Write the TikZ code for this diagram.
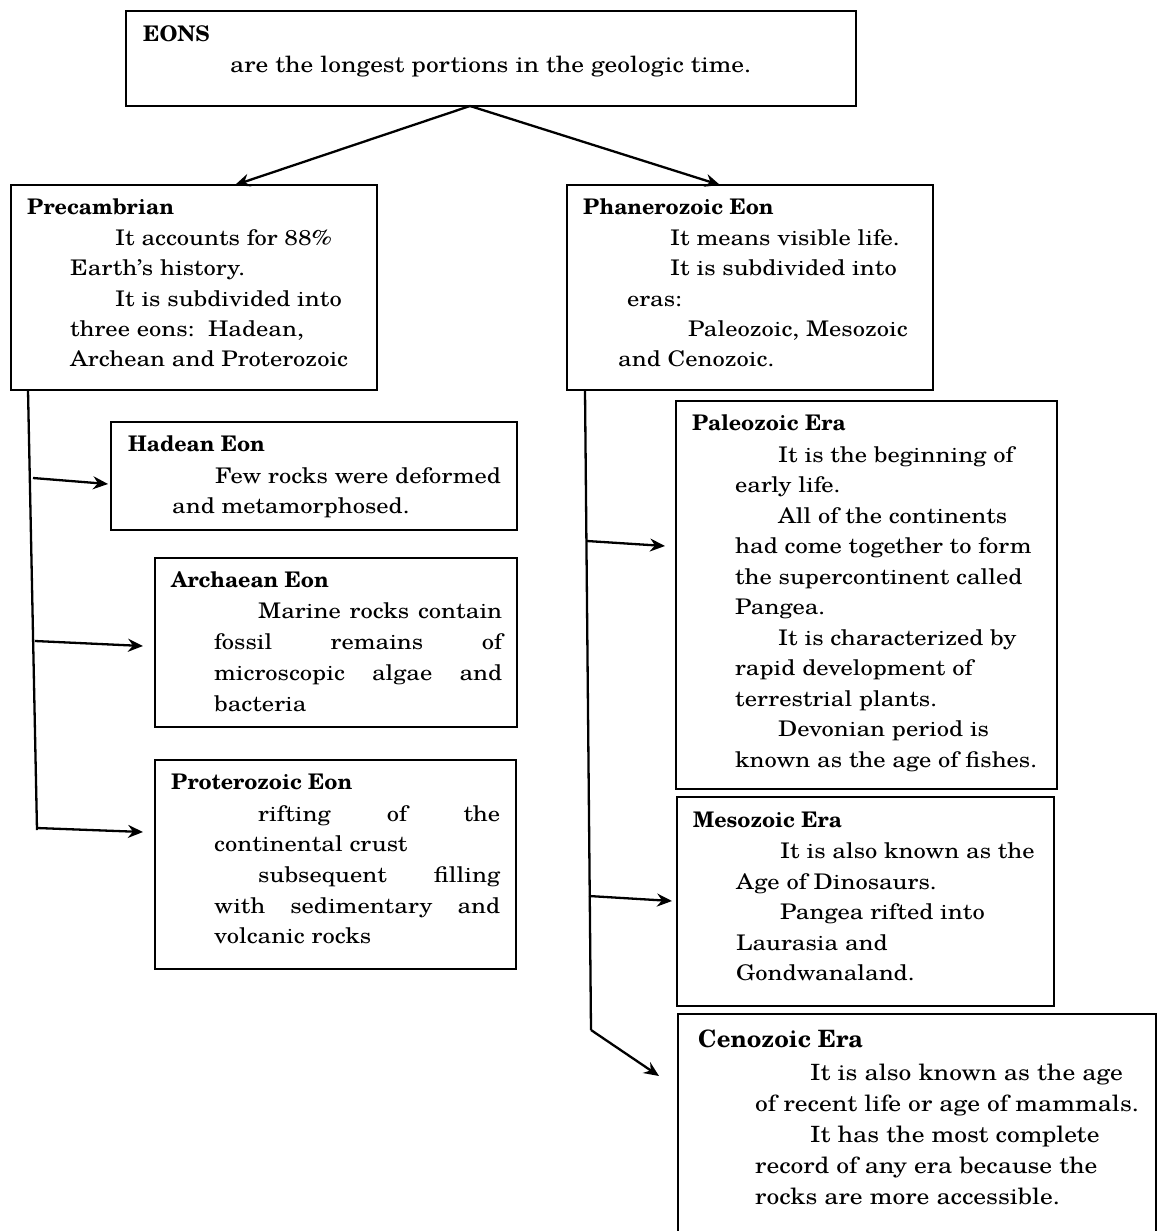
\documentclass[tikz,border=0pt]{standalone}
\usepackage{fontspec}
\setmainfont{TeX Gyre Schola}
\newfontfamily\regf{TeX Gyre Schola}[FakeStretch=1.14]
\usetikzlibrary{arrows.meta}
\begin{document}
\begin{tikzpicture}[x=1pt,y=-1pt,
  box/.style={draw, line width=2.3pt, anchor=north west, inner sep=0pt, outer sep=0pt},
  ttl/.style={anchor=base west, inner sep=0pt, font=\fontsize{21.5}{30.5}\selectfont\bfseries},
  txt/.style={anchor=base west, inner sep=0pt, font=\regf\fontsize{21.5}{30.5}\selectfont},
  etxt/.style={anchor=base west, inner sep=0pt, font=\regf\fontsize{22.3}{30.5}\selectfont},
  btxt/.style={anchor=base west, inner sep=0pt, font=\regf\fontsize{22.4}{32}\selectfont},
  bttl/.style={anchor=base west, inner sep=0pt, font=\fontsize{23.9}{32}\selectfont\bfseries},
  arr/.style={-{Stealth[length=15pt,width=13pt,inset=5pt]}, line width=2.3pt},
  trunk/.style={line width=2.3pt}]
\useasboundingbox (0,0) rectangle (1161,1231);

% ---------- boxes ----------
\node[box, minimum width=730pt, minimum height=95pt] (eons) at (126,11) {};
\node[box, minimum width=366pt, minimum height=205pt] (pc) at (11,185) {};
\node[box, minimum width=366pt, minimum height=205pt] (ph) at (567,185) {};
\node[box, minimum width=406pt, minimum height=108pt] (ha) at (111,422) {};
\node[box, minimum width=362pt, minimum height=169pt] (ar) at (155,558) {};
\node[box, minimum width=361pt, minimum height=209pt] (pr) at (155,760) {};
\node[box, minimum width=381pt, minimum height=388pt] (pa) at (676,401) {};
\node[box, minimum width=377pt, minimum height=209pt] (me) at (677,797) {};
\node[box, minimum width=478pt, minimum height=240pt] (ce) at (678,1014) {};

% ---------- EONS ----------
\node[ttl] (eonsT) at (143,42) {EONS};
\node[etxt] (eons1) at (230,72) {are the longest portions in the geologic time.};

% ---------- Precambrian ----------
\node[ttl] (pcT) at (27,214) {Precambrian};
\node[txt] (pc1) at (115,245) {It accounts for 88\%};
\node[txt] (pc2) at (70,275) {Earth’s history.};
\node[txt] (pc3) at (115,306) {It is subdivided into};
\node[txt] (pc4) at (70,336) {three eons:\ \ Hadean,};
\node[txt] (pc5) at (70,366) {Archean and Proterozoic};

% ---------- Phanerozoic ----------
\node[ttl] (phT) at (583,214) {Phanerozoic Eon};
\node[txt] (ph1) at (670,245) {It means visible life.};
\node[txt] (ph2) at (670,275) {It is subdivided into};
\node[txt] (ph3) at (627,306) {eras:};
\node[txt] (ph4) at (688,336) {Paleozoic, Mesozoic};
\node[txt] (ph5) at (618,366) {and Cenozoic.};

% ---------- Hadean ----------
\node[ttl] (haT) at (128,451) {Hadean Eon};
\node[txt] (ha1) at (215,483) {Few rocks were deformed};
\node[txt] (ha2) at (172,513) {and metamorphosed.};

% ---------- Archaean ----------
\node[ttl] (arT) at (171,587) {Archaean Eon};
\node[txt] (ar1) at (258,618) {\makebox[244pt][s]{Marine rocks contain}};
\node[txt] (ar2) at (214,649) {\makebox[288pt][s]{fossil remains of}};
\node[txt] (ar3) at (214,680) {\makebox[288pt][s]{microscopic algae and}};
\node[txt] (ar4) at (214,711) {bacteria};

% ---------- Proterozoic ----------
\node[ttl] (prT) at (171,789) {Proterozoic Eon};
\node[txt] (pr1) at (258,821) {\makebox[242pt][s]{rifting of the}};
\node[txt] (pr2) at (214,851) {continental crust};
\node[txt] (pr3) at (258,882) {\makebox[242pt][s]{subsequent filling}};
\node[txt] (pr4) at (214,913) {\makebox[286pt][s]{with sedimentary and}};
\node[txt] (pr5) at (214,943) {volcanic rocks};

% ---------- Paleozoic ----------
\node[ttl] (paT) at (692,430) {Paleozoic Era};
\node[txt] (pa1) at (778,462) {It is the beginning of};
\node[txt] (pa2) at (735,492) {early life.};
\node[txt] (pa3) at (778,523) {All of the continents};
\node[txt] (pa4) at (735,553) {had come together to form};
\node[txt] (pa5) at (735,584) {the supercontinent called};
\node[txt] (pa6) at (735,614) {Pangea.};
\node[txt] (pa7) at (778,645) {It is characterized by};
\node[txt] (pa8) at (735,675) {rapid development of};
\node[txt] (pa9) at (735,706) {terrestrial plants.};
\node[txt] (pa10) at (778,736) {Devonian period is};
\node[txt] (pa11) at (735,767) {known as the age of fishes.};

% ---------- Mesozoic ----------
\node[ttl] (meT) at (693,827) {Mesozoic Era};
\node[txt] (me1) at (780,858) {It is also known as the};
\node[txt] (me2) at (736,889) {Age of Dinosaurs.};
\node[txt] (me3) at (780,919) {Pangea rifted into};
\node[txt] (me4) at (736,950) {Laurasia and};
\node[txt] (me5) at (736,980) {Gondwanaland.};

% ---------- Cenozoic ----------
\node[bttl] (ceT) at (698,1047) {Cenozoic Era};
\node[btxt] (ce1) at (810,1080) {It is also known as the age};
\node[btxt] (ce2) at (755,1111) {of recent life or age of mammals.};
\node[btxt] (ce3) at (810,1142) {It has the most complete};
\node[btxt] (ce4) at (755,1173) {record of any era because the};
\node[btxt] (ce5) at (755,1204) {rocks are more accessible.};

% ---------- connector points ----------
\coordinate (e0) at (470,106);
\coordinate (pcin) at (235,185);
\coordinate (phin) at (720,185);
\coordinate (lt0) at (28,390);
\coordinate (lt1) at (37,830);
\coordinate (lb1) at (33,478);
\coordinate (la1) at (108,484);
\coordinate (lb2) at (35,641);
\coordinate (la2) at (143,646);
\coordinate (lb3) at (37,828);
\coordinate (la3) at (143,832);
\coordinate (rt0) at (585,390);
\coordinate (rt1) at (591,1030);
\coordinate (rb1) at (587,541);
\coordinate (ra1) at (665,546);
\coordinate (rb2) at (589,896);
\coordinate (ra2) at (672,901);
\coordinate (ra3) at (659,1076);

% ---------- connectors ----------
\draw[arr] (e0) -- (pcin);
\draw[arr] (e0) -- (phin);
\draw[trunk] (lt0) -- (lt1);
\draw[arr] (lb1) -- (la1);
\draw[arr] (lb2) -- (la2);
\draw[arr] (lb3) -- (la3);
\draw[trunk] (rt0) -- (rt1);
\draw[arr] (rb1) -- (ra1);
\draw[arr] (rb2) -- (ra2);
\draw[arr] (rt1) -- (ra3);
\end{tikzpicture}
\end{document}
